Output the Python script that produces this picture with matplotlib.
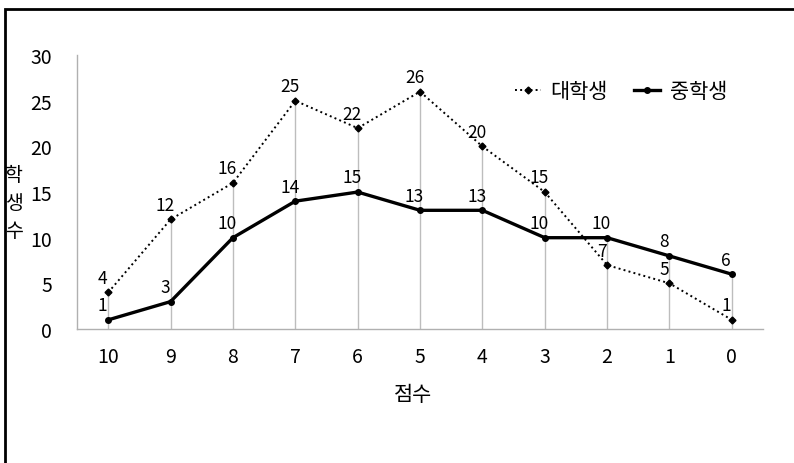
import matplotlib
matplotlib.use("Agg")
import matplotlib.pyplot as plt
from matplotlib.patches import Rectangle

plt.rcParams['font.family'] = ['Noto Sans CJK KR', 'DejaVu Sans']
plt.rcParams['font.weight'] = 'light'

# 점수별 학생 수
scores = ['10', '9', '8', '7', '6', '5', '4', '3', '2', '1', '0']
college = [4, 12, 16, 25, 22, 26, 20, 15, 7, 5, 1]
middle = [1, 3, 10, 14, 15, 13, 13, 10, 10, 8, 6]

fig = plt.figure(figsize=(7.94, 4.64), dpi=100)
ax = fig.add_axes([0.097, 0.2888, 0.864, 0.5903])

x = list(range(len(scores)))

# 각 점수 위치의 세로 보조선
tops = [max(c, m) for c, m in zip(college, middle)]
ax.vlines(x, 0, tops, color='#bdbdbd', lw=1, zorder=1)

ax.plot(x, college, linestyle=':', color='black', lw=1.4,
        marker='D', markersize=3.5, label='대학생', zorder=3)
ax.plot(x, middle, linestyle='-', color='black', lw=2.4,
        marker='o', markersize=4, label='중학생', zorder=3)

for xi, v in zip(x, college):
    ax.annotate(str(v), (xi, v), xytext=(-4, 4), textcoords='offset points',
                ha='center', va='bottom', fontsize=12.5)
for xi, v in zip(x, middle):
    ax.annotate(str(v), (xi, v), xytext=(-4, 4), textcoords='offset points',
                ha='center', va='bottom', fontsize=12.5)

ax.set_xlim(-0.5, len(scores) - 0.5)
ax.set_ylim(0, 30)
ax.set_xticks(x)
ax.set_xticklabels(scores)
ax.set_yticks(range(0, 31, 5))
ax.tick_params(axis='both', length=0, labelsize=14)
ax.tick_params(axis='y', pad=18)
ax.tick_params(axis='x', pad=12)

for side in ['top', 'right']:
    ax.spines[side].set_visible(False)
for side in ['left', 'bottom']:
    ax.spines[side].set_color('#b0b0b0')
    ax.spines[side].set_linewidth(1)

fig.text(0.520, 0.149, '점수', ha='center', va='center', fontsize=15)
fig.text(0.017, 0.562, '학\n생\n수', ha='center', va='center',
         fontsize=14, linespacing=1.45)

fig.legend(loc='center', bbox_to_anchor=(0.782, 0.802), ncol=2,
           frameon=False, fontsize=15, handlelength=1.25,
           handletextpad=0.45, columnspacing=1.3)

# 바깥 테두리
fig.patches.append(Rectangle((0.0063, -0.2), 1.2, 1.178,
                             transform=fig.transFigure, fill=False,
                             edgecolor='black', lw=2, clip_on=False))

fig.savefig('out.png', dpi=100)
